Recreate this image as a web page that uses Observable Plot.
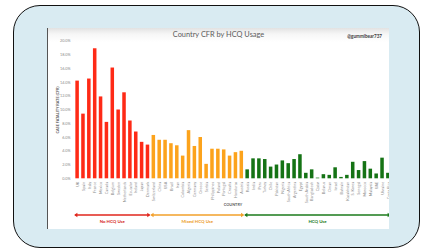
<!DOCTYPE html>
<html>
<head>
<meta charset="utf-8">
<script src="https://cdn.jsdelivr.net/npm/d3@7"></script>
<script src="https://cdn.jsdelivr.net/npm/@observablehq/plot@0.6"></script>
<style>
  html, body { margin: 0; padding: 0; }
  body { width: 423px; height: 249px; background: #ffffff; position: relative; overflow: hidden; font-family: Lato, "Open Sans", sans-serif; }
  .box { position: absolute; left: 13px; top: 5px; width: 407px; height: 243px; box-sizing: border-box;
         border: 1.5px solid #111; border-radius: 27px; background: #d9ebf2; }
  .panel { position: absolute; left: 47px; top: 28px; width: 342px; height: 201px; box-sizing: border-box;
           border-left: 1px solid #555; overflow: hidden;
           background: linear-gradient(#e2e2e2 0px, #f6f6f6 6px, #ffffff 14px, #ffffff 100%); }
  .title { position: absolute; left: 0; width: 341px; top: 2px; text-align: center; font-size: 7.4px; color: #5a5a5a; }
  .handle { position: absolute; right: 7px; top: 5px; font-size: 4.6px; font-weight: bold; color: #3a3a3a; }
  #chart { position: absolute; left: 0; top: 0; width: 350px; }
  #chart svg { max-width: none !important; }
  #chart svg [aria-label$="axis label"] text, #chart svg [aria-label$="axis label"] { font-weight: bold; fill: #595959; }
</style>
</head>
<body>
<div class="box"></div>
<div class="panel">
  <div id="chart"></div>
  <div class="title">Country CFR by HCQ Usage</div>
  <div class="handle">@gummibear737</div>
</div>
<script>
// ---- data ----
const noHcqCountries = ["UK","Spain","Italy","France","Mexico","Canada","Belgium","Sweden","Netherlands","Ecuador","Ireland","Japan","Denmark"];
const noHcqCfr       = [14.2, 9.4, 14.5, 18.9, 11.9, 8.2, 16.1, 10.0, 12.5, 8.4, 6.8, 5.3, 4.9];

const mixedCountries = ["Switzerland","China","USA","Brazil","Iran","Colombia","Algeria","Germany","Greece","Serbia","Philippines","Poland","Portugal","Croatia","Honduras","Austria"];
const mixedCfr       = [6.3, 5.6, 5.6, 5.1, 4.8, 3.3, 7.0, 4.7, 6.0, 2.1, 4.3, 4.3, 4.2, 3.3, 3.8, 4.0];

const hcqCountries = ["Russia","India","Peru","Turkey","Chile","Pakistan","Nigeria","South Africa","Argentina","Egypt","South Arabia","Bangladesh","Qatar","Belarus","Oman","Israel","Bahrain","Kazakhstan","S. Korea","Senegal","Morocco","Malaysia","UAE","Ukraine","Costa Rica"];
const hcqCfr       = [1.3, 2.9, 2.9, 2.8, 1.7, 2.0, 2.6, 2.2, 2.8, 3.5, 0.8, 1.3, 0.1, 0.6, 0.5, 1.6, 0.2, 0.5, 2.4, 1.2, 2.5, 1.4, 0.7, 3.0, 0.8];

const groupNames  = ["No HCQ Use", "Mixed HCQ Use", "HCQ Use"];
const groupColors = ["#fe2a16", "#fca31c", "#157315"];
const arrowColors = ["#e0261c", "#f2a02a", "#1b7a1b"];
const labelColors = ["#d42418", "#ec9a1c", "#1b7a1b"];
const yTicks = [0, 2, 4, 6, 8, 10, 12, 14, 16, 18, 20];

// ---- table built from arrays ----
const groups = [
  {name: groupNames[0], countries: noHcqCountries, values: noHcqCfr},
  {name: groupNames[1], countries: mixedCountries, values: mixedCfr},
  {name: groupNames[2], countries: hcqCountries, values: hcqCfr}
];
const data = groups.flatMap(g => g.countries.map((c, i) => ({country: c, cfr: g.values[i], group: g.name})));
const countries = data.map(d => d.country);

const plot = Plot.plot({
  width: 350,
  height: 201,
  marginLeft: 25,
  marginRight: 6,
  marginTop: 12.7,
  marginBottom: 50.7,
  style: {background: "transparent", fontFamily: "Lato, 'Open Sans', sans-serif", fontSize: "3.8px", color: "#8c8c8c", overflow: "visible", maxWidth: "none"},
  x: {domain: countries, padding: 0.4, label: "COUNTRY", labelAnchor: "center", labelOffset: 27,
      tickSize: 0, tickRotate: -90, tickPadding: 3},
  y: {domain: [0, 20], ticks: yTicks, tickFormat: d => d.toFixed(1) + "%", tickSize: 0, tickPadding: 3,
      label: "CASE FATALITY RATE (CFR)", labelAnchor: "center", labelOffset: 17, labelArrow: false},
  color: {domain: groupNames, range: groupColors},
  marks: [
    Plot.gridY(yTicks, {stroke: "#e6e6e6", strokeOpacity: 1, x1: 0, x2: 350}),
    Plot.barY(data, {x: "country", y: "cfr", fill: "group"})
  ]
});
document.getElementById("chart").appendChild(plot);

// ---- group arrows, positioned through the plot's x scale ----
const xs = plot.scale("x");
const bw = xs.bandwidth;
const svg = d3.select(plot);
const arrowY = 187;
const g = svg.append("g").attr("aria-label", "group arrows");
groups.forEach((grp, i) => {
  const x1 = xs.apply(grp.countries[0]) - 1.2;
  const x2 = xs.apply(grp.countries[grp.countries.length - 1]) + bw + 1.2;
  const col = arrowColors[i];
  const h = 3.2, w = 2.2;
  g.append("line").attr("x1", x1 + 1).attr("x2", x2 - 1).attr("y1", arrowY).attr("y2", arrowY)
    .attr("stroke", col).attr("stroke-width", 1.6);
  g.append("path").attr("d", `M${x1},${arrowY} L${x1 + h},${arrowY - w} L${x1 + h},${arrowY + w} Z`).attr("fill", col);
  g.append("path").attr("d", `M${x2},${arrowY} L${x2 - h},${arrowY - w} L${x2 - h},${arrowY + w} Z`).attr("fill", col);
  g.append("text").attr("x", (x1 + x2) / 2).attr("y", arrowY + 7.5).attr("text-anchor", "middle")
    .attr("font-size", 4.4).attr("font-weight", "bold").attr("fill", labelColors[i]).text(grp.name);
});
</script>
</body>
</html>
